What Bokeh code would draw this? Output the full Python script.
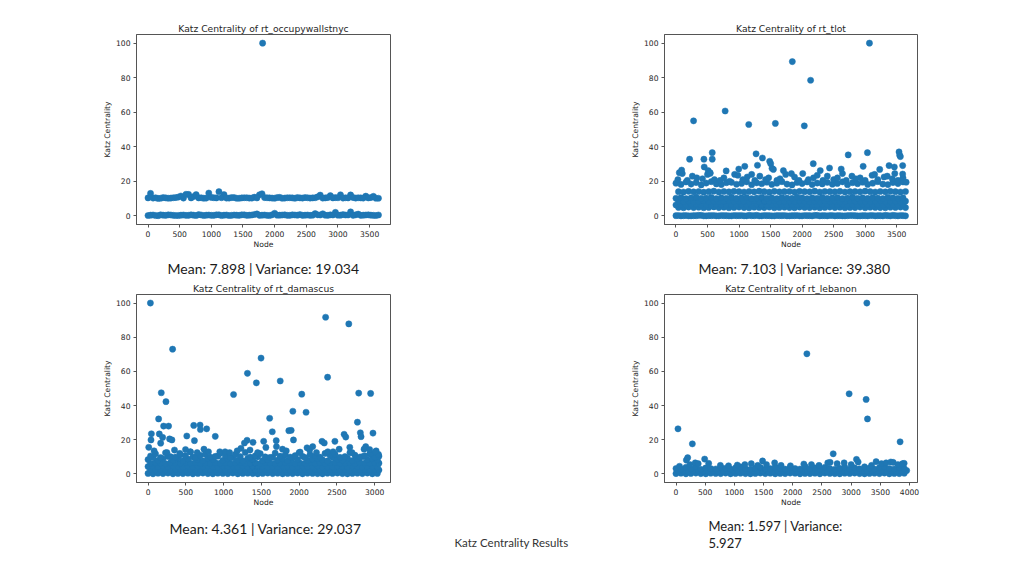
from bokeh.plotting import figure
from bokeh.models import Range1d, FixedTicker, ColumnDataSource
from bokeh.layouts import row, column
from bokeh.embed import file_html
from bokeh.resources import INLINE
from bokeh.core.properties import value

# ---------------- data ----------------
# node positions sampled along the 0..3640 node axis (plots 1 and 2)
nodes_3640_a = [0, 80, 160, 240, 320, 400, 480, 560, 640, 720, 800, 880, 960, 1040, 1120, 1200, 1280, 1360,
                1440, 1520, 1600, 1680, 1760, 1840, 1920, 2000, 2080, 2160, 2240, 2320, 2400, 2480, 2560, 2640,
                2720, 2800, 2880, 2960, 3040, 3120, 3200, 3280, 3360, 3440, 3520, 3600]
nodes_3640_b = [40, 120, 200, 280, 360, 440, 520, 600, 680, 760, 840, 920, 1000, 1080, 1160, 1240, 1320, 1400,
                1480, 1560, 1640, 1720, 1800, 1880, 1960, 2040, 2120, 2200, 2280, 2360, 2440, 2520, 2600, 2680,
                2760, 2840, 2920, 3000, 3080, 3160, 3240, 3320, 3400, 3480, 3560, 3640]

# rt_occupywallstnyc
occ_top_a = [10.4, 10.3, 10.1, 10.6, 10.2, 10.5, 10.9, 10.3, 12.4, 11.2, 10.4, 10.2, 13.2, 10.5, 14.0, 12.3,
             10.3, 10.6, 10.2, 10.5, 10.3, 10.8, 12.2, 10.6, 10.4, 10.2, 10.7, 10.3, 10.5, 10.2, 10.4, 10.6,
             10.3, 10.5, 12.0, 10.4, 11.7, 10.6, 12.2, 10.5, 12.1, 10.3, 10.4, 11.4, 10.6, 10.2]
occ_top_b = [13.0, 10.5, 10.2, 10.4, 10.3, 10.6, 11.5, 12.5, 10.4, 12.3, 10.5, 10.3, 10.7, 10.4, 10.5, 10.3,
             10.6, 10.2, 10.4, 10.5, 10.3, 10.4, 12.8, 10.5, 10.3, 10.6, 10.2, 10.5, 10.4, 10.6, 10.3, 10.5,
             10.4, 11.0, 10.3, 10.6, 10.4, 10.5, 10.3, 10.4, 10.6, 10.5, 10.3, 10.4, 11.3, 10.2]
occ_bot_a = [0.2, 0.5, 0.1, 0.4, 0.6, 0.3, 0.2, 0.5, 0.3, 0.4, 0.7, 0.2, 0.5, 0.3, 0.6, 0.4, 0.2, 0.5, 0.3,
             0.6, 0.4, 0.8, 0.3, 0.5, 0.2, 1.5, 0.4, 0.6, 0.3, 0.5, 0.7, 0.4, 0.3, 1.3, 0.5, 0.4, 0.6, 2.0,
             0.4, 0.5, 2.3, 0.6, 0.3, 0.5, 0.4, 0.2]
occ_bot_b = [0.4, 0.2, 0.6, 0.3, 0.5, 0.2, 0.4, 0.3, 0.6, 0.2, 0.5, 0.4, 0.3, 0.6, 0.2, 0.5, 0.3, 0.4, 0.6,
             0.3, 0.5, 1.1, 0.4, 0.3, 0.6, 0.4, 0.5, 0.3, 0.6, 0.4, 0.3, 0.5, 0.4, 0.6, 1.2, 0.3, 0.5, 0.4,
             0.7, 0.5, 0.3, 1.0, 0.4, 0.6, 0.3, 0.5]
occ_peak_nodes = [1810]
occ_peak_vals = [100]

# rt_tlot
tlot_r0_a = [0.1, 0.0, 0.2, 0.0, 0.1, 0.3, 0.0, 0.1, 0.0, 0.2, 0.1, 0.0, 0.1, 0.2, 0.0, 0.1, 0.3, 0.0, 0.1,
             0.0, 0.2, 0.1, 0.0, 0.1, 0.2, 0.0, 0.1, 0.0, 0.3, 0.1, 0.0, 0.2, 0.1, 0.0, 0.1, 0.2, 0.0, 0.1,
             0.0, 0.2, 0.1, 0.0, 0.1, 0.3, 0.0, 0.1]
tlot_r0_b = [0.2, 0.1, 0.0, 0.1, 0.3, 0.0, 0.1, 0.2, 0.0, 0.1, 0.0, 0.2, 0.1, 0.0, 0.3, 0.1, 0.0, 0.2, 0.1,
             0.0, 0.1, 0.2, 0.0, 0.1, 0.0, 0.2, 0.1, 0.3, 0.0, 0.1, 0.2, 0.0, 0.1, 0.0, 0.2, 0.1, 0.0, 0.1,
             0.2, 0.0, 0.1, 0.3, 0.0, 0.1, 0.2, 0.0]
tlot_r1_b = [4.9, 4.7, 5.1, 4.8, 5.0, 4.7, 4.9, 5.2, 4.8, 5.0, 4.7, 4.9, 5.1, 4.8, 4.7, 5.0, 4.9, 4.8, 5.1,
             4.7, 4.9, 5.0, 4.8, 4.7, 5.1, 4.9, 4.8, 5.0, 4.7, 4.9, 5.1, 4.8, 5.0, 4.7, 4.9, 4.8, 5.1, 4.7,
             5.0, 4.9, 4.8, 4.7, 5.0, 4.9, 5.1, 4.8]
tlot_r2_a = [6.3, 6.6, 6.2, 6.5, 6.8, 6.3, 6.4, 6.2, 6.7, 6.4, 6.3, 6.6, 6.2, 6.5, 6.4, 6.3, 6.7, 6.2, 6.5,
             6.4, 6.6, 6.3, 6.2, 6.5, 6.4, 6.7, 6.3, 6.4, 6.2, 6.6, 6.5, 6.3, 6.4, 6.7, 6.2, 6.5, 6.3, 6.6,
             6.4, 6.2, 6.5, 6.3, 6.7, 6.4, 6.2, 6.5]
tlot_r3_b = [8.5, 8.3, 8.6, 8.2, 8.4, 8.7, 8.3, 8.5, 8.2, 8.4, 8.6, 8.3, 8.5, 8.4, 8.2, 8.6, 8.3, 8.5, 8.4,
             8.7, 8.2, 8.4, 8.5, 8.3, 8.6, 8.4, 8.2, 8.5, 8.3, 8.6, 8.4, 8.5, 8.2, 8.3, 8.6, 8.4, 8.5, 8.3,
             8.2, 8.4, 8.6, 8.3, 8.5, 8.4, 8.2, 8.5]
tlot_r4_a = [10.2, 10.6, 10.0, 10.4, 10.8, 10.1, 10.3, 10.7, 10.0, 10.5, 10.2, 10.8, 10.1, 10.4, 10.6, 10.0,
             10.3, 10.7, 10.2, 10.5, 10.0, 10.6, 10.3, 10.1, 10.8, 10.4, 10.0, 10.5, 10.2, 10.7, 10.1, 10.4,
             10.6, 10.0, 10.3, 10.8, 10.2, 10.5, 10.1, 10.6, 10.3, 10.0, 10.7, 10.4, 10.2, 10.5]
tlot_r5_b = [14.0, 13.8, 14.2, 13.9, 14.1, 13.7, 14.0, 14.3, 13.8, 14.1, 13.9, 14.2, 14.0, 13.8, 14.1, 13.9,
             14.3, 14.0, 13.7, 14.2, 13.9, 14.0, 14.1, 13.8, 14.2, 14.0, 13.9, 14.3, 13.8, 14.1, 14.0, 13.9,
             14.2, 13.8, 14.0, 14.1, 13.9, 14.3, 14.0, 13.8, 14.1, 13.9, 14.2, 14.0, 13.8, 14.1]
tlot_r6_a = [18.9, 18.2, 19.6, 18.4, 19.3, 17.9, 19.0, 19.8, 18.5, 18.1, 19.2, 19.4, 18.3, 18.8, 19.7, 18.0,
             19.1, 18.6, 19.5, 18.2, 18.9, 19.8, 18.4, 17.9, 19.3, 18.7, 19.6, 18.1, 19.0, 18.5, 19.4, 18.3,
             18.8, 19.7, 18.0, 19.2, 18.6, 19.5, 18.2, 18.9, 19.8, 18.4, 18.1, 19.3, 18.7, 19.6]
tlot_upper_nodes = [30, 100, 180, 260, 330, 420, 500, 540, 610, 700, 760, 850, 930, 980, 1060, 1130, 1200,
                    1250, 1330, 1420, 1470, 1600, 1650, 1740, 1830, 1880, 1950, 2010, 2100, 2180, 2240, 2330,
                    2400, 2500, 2560, 2640, 2700, 2790, 2850, 2920, 3000, 3110, 3150, 3200, 3300, 3350, 3430,
                    3470, 3520, 3600, 3650]
tlot_upper_vals = [21, 24.5, 20.5, 23, 22, 21.5, 24, 25, 21, 20.5, 22, 20, 24, 23.5, 21, 22.5, 24, 20.5, 23,
                   21, 22, 20.5, 21.5, 24, 24.5, 22.5, 20.5, 24.5, 21, 22, 23.5, 20.5, 23, 21, 22, 24.5, 20.5,
                   23, 21.5, 22, 20.5, 23.5, 24, 21, 22.5, 23, 21.5, 24.5, 20.5, 22, 19.5]
tlot_peak_nodes = [279, 780, 1154, 1576, 1845, 2035, 2135, 3068, 216, 443, 575, 575, 448, 511, 543, 53, 90,
                   796, 996, 1091, 1270, 1292, 1371, 1486, 1502, 1523, 1545, 1703, 2177, 2288, 2435, 2620,
                   2731, 2968, 3036, 3231, 3379, 3463, 3537, 3548, 3558, 3595, 3595]
tlot_peak_vals = [55, 60.7, 52.9, 53.5, 89.3, 52.1, 78.5, 100, 32.8, 32.8, 36.6, 32.8, 28.3, 26.2, 24.6, 25,
                  26.5, 26, 27.1, 28.7, 35.9, 29.3, 33.5, 31.6, 30.2, 27.5, 26.9, 26.2, 30.2, 26.2, 27.7, 27.1,
                  35.3, 28.7, 36.6, 26.9, 29.1, 28.3, 37, 35.1, 34.3, 29.1, 24.2]

# rt_damascus
nodes_3060_a = [0, 66, 132, 198, 264, 330, 396, 462, 528, 594, 660, 726, 792, 858, 924, 990, 1056, 1122, 1188,
                1254, 1320, 1386, 1452, 1518, 1584, 1650, 1716, 1782, 1848, 1914, 1980, 2046, 2112, 2178, 2244,
                2310, 2376, 2442, 2508, 2574, 2640, 2706, 2772, 2838, 2904, 2970, 3036]
nodes_3060_b = [33, 99, 165, 231, 297, 363, 429, 495, 561, 627, 693, 759, 825, 891, 957, 1023, 1089, 1155, 1221,
                1287, 1353, 1419, 1485, 1551, 1617, 1683, 1749, 1815, 1881, 1947, 2013, 2079, 2145, 2211, 2277,
                2343, 2409, 2475, 2541, 2607, 2673, 2739, 2805, 2871, 2937, 3003, 3057]
dam_r0_a = [0.3, 0.1, 0.4, 0.2, 0.5, 0.1, 0.3, 0.2, 0.4, 0.1, 0.3, 0.5, 0.2, 0.1, 0.4, 0.3, 0.2, 0.5, 0.1, 0.3,
            0.4, 0.2, 0.1, 0.3, 0.5, 0.2, 0.4, 0.1, 0.3, 0.2, 0.5, 0.1, 0.4, 0.3, 0.2, 0.1, 0.4, 0.3, 0.5, 0.2,
            0.1, 0.3, 0.4, 0.2, 0.5, 0.1, 0.3]
dam_r1_b = [2.4, 2.2, 2.6, 2.3, 2.1, 2.5, 2.4, 2.2, 2.6, 2.3, 2.5, 2.1, 2.4, 2.3, 2.6, 2.2, 2.5, 2.4, 2.1, 2.3,
            2.6, 2.2, 2.4, 2.5, 2.3, 2.1, 2.6, 2.4, 2.2, 2.5, 2.3, 2.4, 2.1, 2.6, 2.2, 2.5, 2.3, 2.4, 2.2, 2.6,
            2.1, 2.5, 2.3, 2.4, 2.2, 2.5, 2.3]
dam_r2_a = [4.3, 4.5, 4.1, 4.4, 4.2, 4.6, 4.3, 4.1, 4.5, 4.2, 4.4, 4.3, 4.6, 4.1, 4.2, 4.5, 4.3, 4.4, 4.1, 4.6,
            4.2, 4.3, 4.5, 4.4, 4.1, 4.3, 4.2, 4.6, 4.4, 4.1, 4.3, 4.5, 4.2, 4.4, 4.6, 4.1, 4.3, 4.2, 4.5, 4.4,
            4.1, 4.6, 4.3, 4.2, 4.5, 4.4, 4.3]
dam_r3_b = [6.2, 6.5, 6.3, 6.1, 6.6, 6.4, 6.2, 6.5, 6.3, 6.7, 6.1, 6.4, 6.2, 6.6, 6.3, 6.5, 6.1, 6.4, 6.7, 6.2,
            6.3, 6.5, 6.1, 6.6, 6.4, 6.2, 6.3, 6.7, 6.5, 6.1, 6.4, 6.2, 6.6, 6.3, 6.5, 6.1, 6.4, 6.7, 6.2, 6.3,
            6.5, 6.1, 6.6, 6.4, 6.2, 6.5, 6.3]
dam_r4_a = [8.4, 9.6, 7.8, 8.9, 10.2, 8.1, 9.3, 7.6, 8.7, 9.9, 8.2, 7.7, 9.1, 8.5, 10.4, 7.9, 8.8, 9.5, 8.0,
            7.6, 9.2, 8.6, 10.0, 7.8, 8.3, 9.7, 8.1, 8.9, 7.7, 9.4, 8.4, 10.3, 7.9, 8.6, 9.0, 8.2, 7.6, 9.8,
            8.5, 8.0, 9.3, 7.8, 8.8, 10.1, 8.3, 9.0, 8.1]
dam_r5_b = [10.5, 11.8, 9.6, 12.4, 10.1, 9.8, 11.2, 10.7, 12.9, 9.7, 10.9, 11.5, 9.9, 10.3, 12.1, 10.8, 9.6,
            11.4, 10.2, 12.6, 9.8, 10.6, 11.9, 10.0, 9.7, 12.2, 10.4, 11.1, 9.9, 10.7, 12.8, 9.6, 11.3, 10.5,
            9.8, 12.0, 10.9, 11.6, 9.7, 10.2, 12.5, 11.0, 9.9, 10.6, 11.7, 9.8, 10.4]
dam_low_nodes = [80, 250, 350, 420, 560, 650, 740, 800, 950, 1020, 1080, 1180, 1230, 1350, 1450, 1560, 1700,
                 1780, 1830, 2000, 2140, 2230, 2380, 2450, 2530, 2700, 2860, 2950, 3020, 3050]
dam_low_vals = [13.5, 12.5, 14, 12, 13, 12.5, 14.5, 13, 13, 13, 12.5, 13.5, 15, 14, 12.5, 15.5, 16, 14.5,
                13.5, 12.5, 14, 12.5, 13, 13, 14.5, 12.5, 14.5, 12, 13.5, 11.5]
dam_peak_nodes = [31, 325, 175, 237, 140, 44, 39, 9, 149, 167, 206, 272, 285, 316, 193, 513, 496, 605, 614,
                  689, 693, 776, 890, 1132, 1316, 1311, 1276, 1434, 1390, 1496, 1531, 1610, 1645, 1750, 1697,
                  1864, 1895, 1917, 1925, 2035, 2092, 2105, 2180, 2303, 2333, 2351, 2377, 2474, 2658, 2596,
                  2618, 2671, 2772, 2789, 2811, 2820, 2947, 2978, 2882, 2934, 3009]
dam_peak_vals = [100, 73, 47.5, 42.3, 32.2, 23.5, 19.9, 15.6, 23.4, 18, 28, 28, 20.5, 19.9, 21.4, 22.2, 14.3,
                 28.4, 19.5, 28.6, 26, 26.4, 22, 46.5, 58.9, 19.7, 18.1, 53.3, 18.5, 67.8, 19.1, 32.6, 24.7,
                 54.4, 19.5, 25.3, 25.5, 36.7, 19.9, 46.7, 36.1, 15.3, 16, 19.1, 18.1, 91.7, 56.6, 19.1, 87.8,
                 23.2, 21.6, 15.6, 30.3, 47.3, 24.1, 21.8, 47.1, 23.9, 16, 14.3, 12.9]

# rt_lebanon
nodes_3950_a = [0, 85, 170, 255, 340, 425, 510, 595, 680, 765, 850, 935, 1020, 1105, 1190, 1275, 1360, 1445,
                1530, 1615, 1700, 1785, 1870, 1955, 2040, 2125, 2210, 2295, 2380, 2465, 2550, 2635, 2720, 2805,
                2890, 2975, 3060, 3145, 3230, 3315, 3400, 3485, 3570, 3655, 3740, 3825, 3910]
nodes_3950_b = [42, 127, 212, 297, 382, 467, 552, 637, 722, 807, 892, 977, 1062, 1147, 1232, 1317, 1402, 1487,
                1572, 1657, 1742, 1827, 1912, 1997, 2082, 2167, 2252, 2337, 2422, 2507, 2592, 2677, 2762, 2847,
                2932, 3017, 3102, 3187, 3272, 3357, 3442, 3527, 3612, 3697, 3782, 3867, 3952]
leb_r0_a = [0.2, 0.4, 0.1, 0.3, 0.5, 0.2, 0.1, 0.4, 0.3, 0.2, 0.5, 0.1, 0.3, 0.4, 0.2, 0.1, 0.3, 0.5, 0.2, 0.4,
            0.1, 0.3, 0.2, 0.5, 0.4, 0.1, 0.3, 0.2, 0.4, 0.1, 0.5, 0.3, 0.2, 0.1, 0.4, 0.3, 0.5, 0.2, 0.1, 0.3,
            0.4, 0.2, 0.5, 0.1, 0.3, 0.2, 0.4]
leb_r1_b = [1.8, 2.0, 1.6, 1.9, 2.1, 1.7, 1.8, 2.0, 1.6, 1.9, 1.7, 2.1, 1.8, 1.6, 2.0, 1.9, 1.7, 1.8, 2.1, 1.6,
            1.9, 2.0, 1.7, 1.8, 1.6, 2.1, 1.9, 1.7, 2.0, 1.8, 1.6, 1.9, 2.1, 1.7, 1.8, 2.0, 1.6, 1.9, 1.7, 2.1,
            1.8, 2.0, 1.6, 1.9, 1.7, 1.8, 2.0]
leb_r2_a = [3.2, 2.8, 3.9, 3.0, 4.3, 2.7, 3.5, 3.1, 2.9, 4.0, 3.3, 2.8, 3.6, 4.2, 3.0, 2.7, 3.4, 3.8, 2.9, 3.1,
            4.1, 3.0, 2.8, 3.7, 3.2, 2.9, 4.4, 3.0, 3.5, 2.8, 3.9, 3.1, 2.7, 3.3, 4.0, 2.9, 3.6, 3.0, 4.2, 3.4,
            2.8, 3.7, 4.3, 3.1, 2.9, 3.8, 3.2]
leb_peak_nodes = [3269, 2242, 2966, 3257, 3280, 34, 280, 3839, 2693, 177, 200, 491, 1483, 3092, 3428, 3908, 60,
                  240, 330, 380, 560, 760, 900, 1050, 1180, 1290, 1400, 1550, 1690, 1800, 1960, 2190, 2320,
                  2450, 2600, 2640, 2760, 2880, 3000, 3120, 3350, 3520, 3600, 3680, 3720, 3800, 3880]
leb_peak_vals = [100, 70.3, 46.9, 43.6, 32.2, 26.4, 17.6, 18.8, 11.8, 8.1, 9.5, 8.7, 7.6, 8.5, 7.2, 6.2, 4.5,
                 5.5, 6.5, 6.0, 6.2, 5.0, 4.8, 5.2, 5.5, 6.0, 5.0, 5.5, 6.5, 5.0, 4.8, 5.8, 5.5, 5.0, 6.5, 6.8,
                 6.0, 6.5, 5.5, 7.0, 5.0, 6.0, 6.5, 7.0, 6.8, 5.5, 6.0]

titles = ["Katz Centrality of rt_occupywallstnyc", "Katz Centrality of rt_tlot",
          "Katz Centrality of rt_damascus", "Katz Centrality of rt_lebanon"]
stats_texts = ["Mean: 7.898 | Variance: 19.034", "Mean: 7.103 | Variance: 39.380",
               "Mean: 4.361 | Variance: 29.037", "Mean: 1.597 | Variance:", "5.927"]
footer_text = "Katz Centrality Results"
y_ticks = [0, 20, 40, 60, 80, 100]
x_ticks_3500 = [0, 500, 1000, 1500, 2000, 2500, 3000, 3500]
x_ticks_3000 = [0, 500, 1000, 1500, 2000, 2500, 3000]
x_ticks_4000 = [0, 500, 1000, 1500, 2000, 2500, 3000, 3500, 4000]


def pairs(*chunks):
    xs, ys = [], []
    for nx, vy in chunks:
        n = min(len(nx), len(vy))
        xs += list(nx[:n])
        ys += list(vy[:n])
    return xs, ys


occ_x, occ_y = pairs((nodes_3640_a, occ_top_a), (nodes_3640_b, occ_top_b), (nodes_3640_a, occ_bot_a),
                     (nodes_3640_b, occ_bot_b), (occ_peak_nodes, occ_peak_vals))
tlot_x, tlot_y = pairs((nodes_3640_a, tlot_r0_a), (nodes_3640_b, tlot_r0_b), (nodes_3640_b, tlot_r1_b),
                       (nodes_3640_a, tlot_r2_a), (nodes_3640_b, tlot_r3_b), (nodes_3640_a, tlot_r4_a),
                       (nodes_3640_b, tlot_r5_b), (nodes_3640_a, tlot_r6_a), (tlot_upper_nodes, tlot_upper_vals),
                       (tlot_peak_nodes, tlot_peak_vals))
dam_x, dam_y = pairs((nodes_3060_a, dam_r0_a), (nodes_3060_b, dam_r1_b), (nodes_3060_a, dam_r2_a),
                     (nodes_3060_b, dam_r3_b), (nodes_3060_a, dam_r4_a), (nodes_3060_b, dam_r5_b),
                     (dam_low_nodes, dam_low_vals), (dam_peak_nodes, dam_peak_vals))
leb_x, leb_y = pairs((nodes_3950_a, leb_r0_a), (nodes_3950_b, leb_r1_b), (nodes_3950_a, leb_r2_a),
                     (leb_peak_nodes, leb_peak_vals))

# ---------------- styling ----------------
BLUE = "#1f77b4"
MPL_FONT = "DejaVu Sans"
SLIDE_FONT = "Lato"
AX_COLOR = "#555555"
TXT_COLOR = "#262626"


def make_plot(title, xs, ys, x_range, x_ticks, width, height, left, right, top, bottom, standoff):
    p = figure(width=width, height=height, output_backend="svg", toolbar_location=None,
               x_range=Range1d(*x_range), y_range=Range1d(-5, 105),
               min_border_left=left, min_border_right=right, min_border_top=top, min_border_bottom=bottom)
    p.title.text = title
    p.title.align = "center"
    p.title.text_font = MPL_FONT
    p.title.text_font_size = "9.2px"
    p.title.text_font_style = "normal"
    p.title.text_color = TXT_COLOR
    p.title.standoff = standoff
    p.xgrid.visible = False
    p.ygrid.visible = False
    p.outline_line_color = AX_COLOR
    p.outline_line_width = 1
    p.background_fill_color = "white"
    p.border_fill_color = "white"
    p.xaxis.ticker = FixedTicker(ticks=x_ticks)
    p.yaxis.ticker = FixedTicker(ticks=y_ticks)
    p.xaxis.axis_label = "Node"
    p.yaxis.axis_label = "Katz Centrality"
    for ax in (p.xaxis[0], p.yaxis[0]):
        ax.axis_line_color = AX_COLOR
        ax.major_tick_line_color = AX_COLOR
        ax.major_tick_out = 3
        ax.major_tick_in = 0
        ax.minor_tick_line_color = None
        ax.major_label_text_font = MPL_FONT
        ax.major_label_text_font_size = "7.6px"
        ax.major_label_text_color = TXT_COLOR
        ax.major_label_standoff = 3
        ax.axis_label_text_font = MPL_FONT
        ax.axis_label_text_font_size = "7.6px"
        ax.axis_label_text_font_style = "normal"
        ax.axis_label_text_color = TXT_COLOR
    p.xaxis[0].axis_label_standoff = 0
    p.yaxis[0].axis_label_standoff = 1
    src = ColumnDataSource(data=dict(node=xs, katz=ys))
    p.scatter("node", "katz", source=src, size=6.2, fill_color=BLUE, line_color=BLUE, line_width=0.5)
    return p


def text_strip(width, height, items):
    p = figure(width=width, height=height, output_backend="svg", toolbar_location=None,
               x_range=Range1d(0, width), y_range=Range1d(height, 0),
               x_axis_type=None, y_axis_type=None, min_border=0)
    p.outline_line_color = None
    p.xgrid.visible = False
    p.ygrid.visible = False
    for (tx, ty, txt, size, color, align) in items:
        p.text(x=[tx], y=[ty], text=[txt], text_font=value(SLIDE_FONT), text_font_size=size,
               text_color=color, text_align=align, text_baseline="middle")
    return p


p1 = make_plot(titles[0], occ_x, occ_y, (-182, 3830), x_ticks_3500, 400, 253, 136, 10, 34, 29, 1)
p2 = make_plot(titles[1], tlot_x, tlot_y, (-182, 3830), x_ticks_3500, 535, 253, 264, 18, 34, 29, 1)
p3 = make_plot(titles[2], dam_x, dam_y, (-153, 3210), x_ticks_3000, 400, 232, 136, 10, 12, 28, 1)
p4 = make_plot(titles[3], leb_x, leb_y, (-197, 4137), x_ticks_4000, 535, 232, 264, 18, 16, 27, 2)

strip1 = text_strip(1020, 25, [
    (167, 15, stats_texts[0], "14px", "#1a1a1a", "left"),
    (698, 15, stats_texts[1], "14px", "#1a1a1a", "left"),
])
strip2 = text_strip(1020, 62, [
    (169, 18, stats_texts[2], "14px", "#1a1a1a", "left"),
    (708, 15, stats_texts[3], "13px", "#1a1a1a", "left"),
    (708, 32, stats_texts[4], "13px", "#1a1a1a", "left"),
    (511, 32, footer_text, "11.5px", "#333333", "center"),
])

layout = column(row(p1, p2), strip1, row(p3, p4), strip2)

open("out.html", "w").write(file_html(layout, INLINE))
